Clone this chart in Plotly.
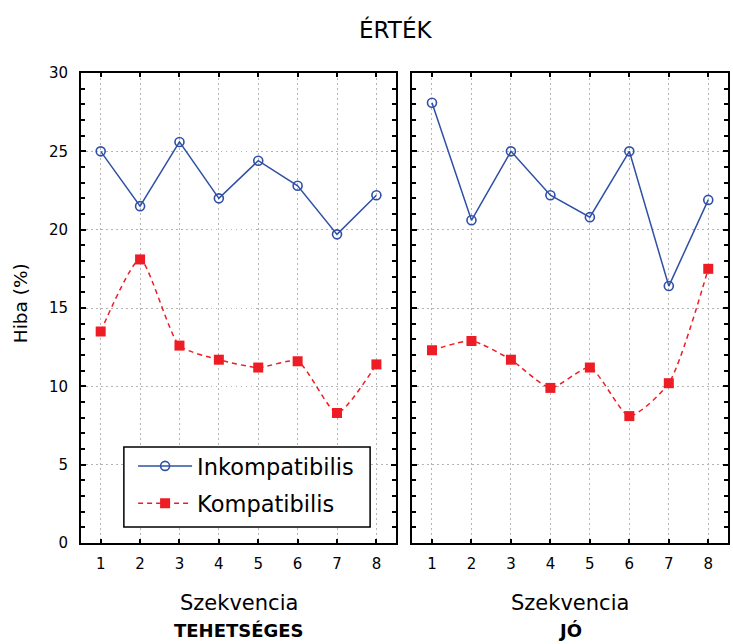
import plotly.graph_objects as go

# Sequence positions and error rates (%) per group
szekvencia = [1, 2, 3, 4, 5, 6, 7, 8]

tehetseges_inkompatibilis = [25.0, 21.5, 25.6, 22.0, 24.4, 22.8, 19.7, 22.2]
tehetseges_kompatibilis = [13.5, 18.1, 12.6, 11.7, 11.2, 11.6, 8.3, 11.4]

jo_inkompatibilis = [28.1, 20.6, 25.0, 22.2, 20.8, 25.0, 16.4, 21.9]
jo_kompatibilis = [12.3, 12.9, 11.7, 9.9, 11.2, 8.1, 10.2, 17.5]

y_ticks = [0, 5, 10, 15, 20, 25, 30]

FONT = "DejaVu Sans"
BLUE = "#2f50a6"
RED = "#ee1c24"
GRID = "#b4b4b4"

fig = go.Figure()

def add_pair(ink, komp, xa, ya, show):
    fig.add_trace(go.Scatter(
        x=szekvencia, y=ink, xaxis=xa, yaxis=ya,
        name="Inkompatibilis", legendgroup="ink", showlegend=show,
        mode="lines+markers",
        line=dict(color=BLUE, width=1.5),
        marker=dict(symbol="circle-open", size=9, color=BLUE, line=dict(width=1.6)),
    ))
    fig.add_trace(go.Scatter(
        x=szekvencia, y=komp, xaxis=xa, yaxis=ya,
        name="Kompatibilis", legendgroup="komp", showlegend=show,
        mode="lines+markers",
        line=dict(color=RED, width=1.5, dash="5px,4px", shape="spline", smoothing=0.6),
        marker=dict(symbol="square", size=10, color=RED),
    ))

add_pair(tehetseges_inkompatibilis, tehetseges_kompatibilis, "x", "y", True)
add_pair(jo_inkompatibilis, jo_kompatibilis, "x2", "y2", False)

xcommon = dict(
    range=[0.5, 8.5], tickmode="array", tickvals=szekvencia,
    ticktext=[str(v) for v in szekvencia],
    showline=True, linecolor="black", linewidth=2, mirror="ticks",
    ticks="inside", ticklen=4, tickwidth=1.5, tickcolor="black",
    showgrid=True, gridcolor=GRID, griddash="1.5px,3.5px", gridwidth=1.3,
    zeroline=False, ticklabelstandoff=6,
    tickfont=dict(family=FONT, size=15, color="black"),
)
ycommon = dict(
    range=[0, 30], tickmode="array", tickvals=y_ticks,
    showline=True, linecolor="black", linewidth=2, mirror="ticks",
    ticks="inside", ticklen=5, tickwidth=1.5, tickcolor="black",
    minor=dict(dtick=1, ticks="inside", ticklen=4, tickwidth=1.5, tickcolor="black", showgrid=False),
    showgrid=True, gridcolor=GRID, griddash="1.5px,3.5px", gridwidth=1.3,
    zeroline=False, ticklabelstandoff=8,
    tickfont=dict(family=FONT, size=15, color="black"),
)

fig.update_layout(
    width=733, height=644,
    margin=dict(l=81, r=3, t=73, b=101),
    paper_bgcolor="white", plot_bgcolor="white",
    font=dict(family=FONT, color="black"),
    xaxis=dict(domain=[0, 0.487], anchor="y", **xcommon),
    xaxis2=dict(domain=[0.512, 1], anchor="y2", **xcommon),
    yaxis=dict(anchor="x", **ycommon),
    yaxis2=dict(anchor="x2", showticklabels=False, **ycommon),
    legend=dict(
        x=0.0805, y=0.209, xanchor="left", yanchor="top",
        bgcolor="rgba(0,0,0,0)", borderwidth=0,
        font=dict(family=FONT, size=22.5, color="black"),
        tracegroupgap=5, itemwidth=54,
    ),
    showlegend=True,
)

# Legend frame
fig.add_shape(type="rect", xref="paper", yref="paper",
              x0=(124 - 81) / 649, x1=(371 - 81) / 649,
              y0=(543 - 527) / 470, y1=(543 - 447) / 470,
              line=dict(color="black", width=1.5), fillcolor="white", layer="above")

# Titles and axis labels
def label(text, x, y, size, angle=0):
    fig.add_annotation(text=text, xref="paper", yref="paper", x=x, y=y,
                       xanchor="center", yanchor="middle", textangle=angle,
                       showarrow=False, font=dict(family=FONT, size=size, color="black"))

label("ÉRTÉK", (396 - 81) / 649, (543 - 29) / 470, 23)
label("Hiba (%)", (20 - 81) / 649, (543 - 303) / 470, 18.5, -90)
for cx, grp in [(239, "TEHETSÉGES"), (572, "JÓ")]:
    label("Szekvencia", (cx - 81) / 649, (543 - 603) / 470, 21)
    label("<b>" + grp + "</b>", (cx - 81) / 649, (543 - 630) / 470, 18)

fig.write_html("out.html")
